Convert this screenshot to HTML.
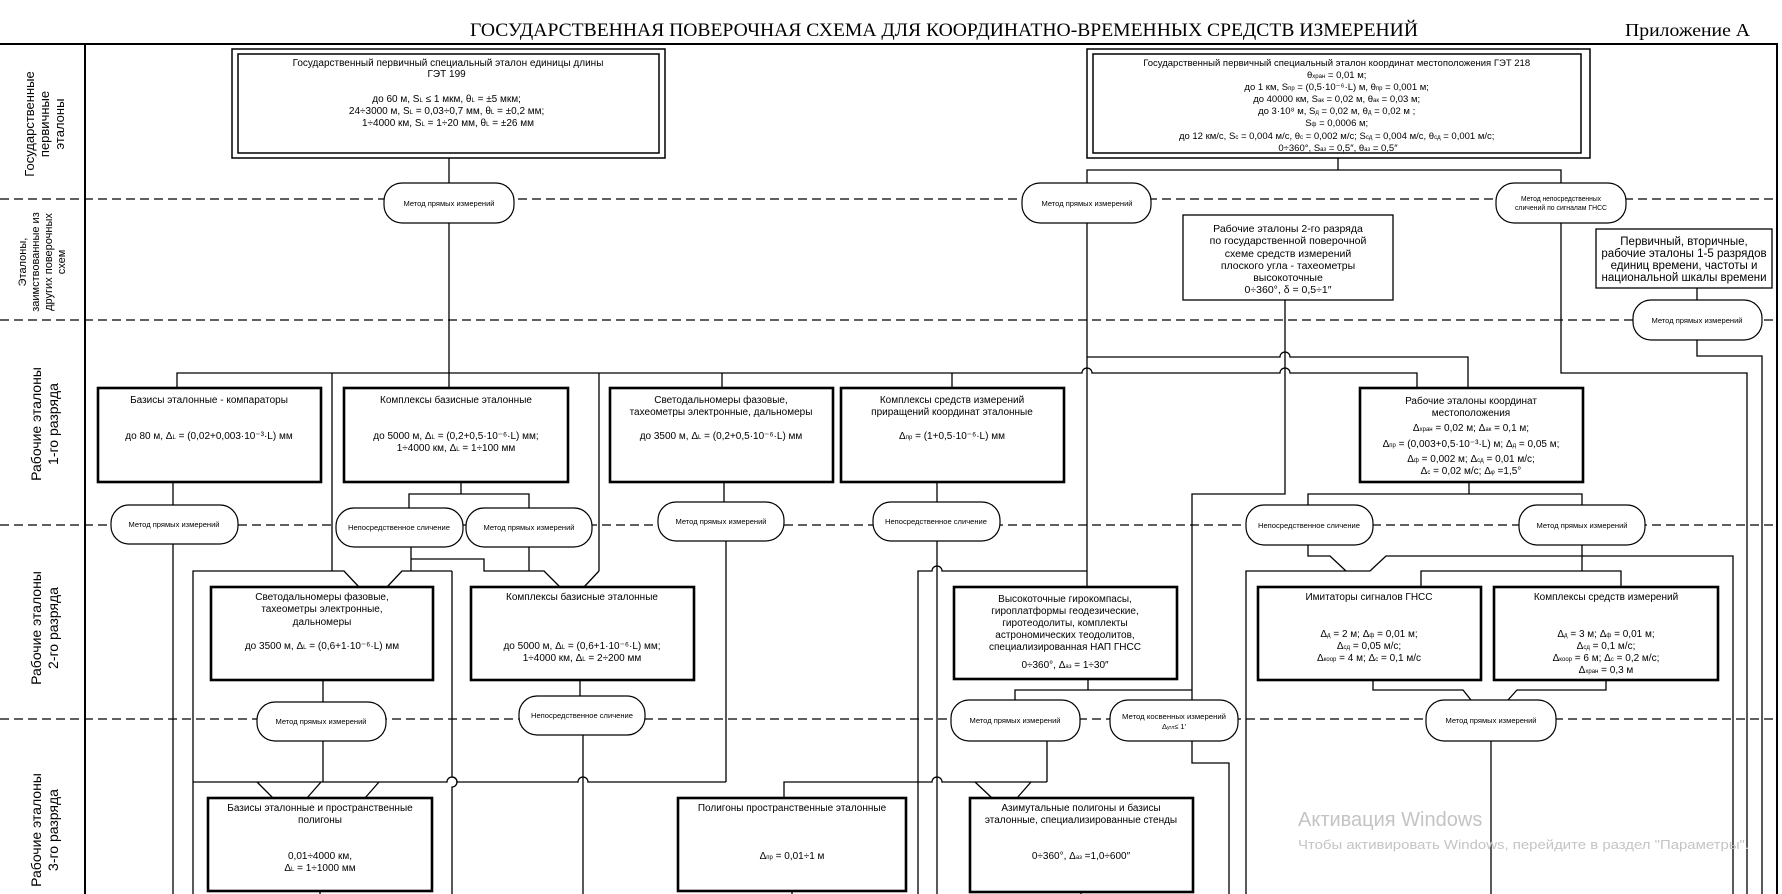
<!DOCTYPE html>
<html><head><meta charset="utf-8"><style>
html,body{margin:0;padding:0;background:#fff}
svg{display:block}
text{font-family:"Liberation Sans",sans-serif;fill:#000}
.t{font-size:10px;text-anchor:middle}
.o{font-size:7.5px;text-anchor:middle}
.l{stroke:#000;stroke-width:1.3;fill:none}
.b{stroke:#000;stroke-width:2.6;fill:#fff}
.ov{stroke:#000;stroke-width:1.2;fill:#fff}
.d{stroke:#000;stroke-width:1.2;stroke-dasharray:9 5}
.rl{font-size:13px;text-anchor:middle;fill:#222}
</style></head><body>
<svg width="1782" height="894" viewBox="0 0 1782 894" xmlns="http://www.w3.org/2000/svg">
<rect width="1782" height="894" fill="#fff"/>
<!-- title -->
<text x="944" y="36" style="font-family:'Liberation Serif',serif;font-size:19px" text-anchor="middle" textLength="948" lengthAdjust="spacingAndGlyphs">ГОСУДАРСТВЕННАЯ ПОВЕРОЧНАЯ СХЕМА ДЛЯ КООРДИНАТНО-ВРЕМЕННЫХ СРЕДСТВ ИЗМЕРЕНИЙ</text>
<text x="1625" y="36" style="font-family:'Liberation Serif',serif;font-size:18px" textLength="125" lengthAdjust="spacingAndGlyphs">Приложение А</text>
<!-- frame -->
<path d="M0 44H1777V894M85 44V894" stroke="#000" stroke-width="2" fill="none"/>
<line class="d" x1="0" y1="199" x2="1777" y2="199"/>
<line class="d" x1="0" y1="320" x2="1777" y2="320"/>
<line class="d" x1="0" y1="525" x2="1777" y2="525"/>
<line class="d" x1="0" y1="719" x2="1777" y2="719"/>
<!-- row labels -->
<g class="rl">
<text transform="translate(44,124) rotate(-90)"><tspan x="0" y="-10">Государственные</tspan><tspan x="0" y="5">первичные</tspan><tspan x="0" y="20">эталоны</tspan></text>
<text transform="translate(43,262) rotate(-90)" style="font-size:11px"><tspan x="0" y="-17">Эталоны,</tspan><tspan x="0" y="-4">заимствованные из</tspan><tspan x="0" y="9">других поверочных</tspan><tspan x="0" y="22">схем</tspan></text>
<text transform="translate(44,424) rotate(-90)" style="font-size:14px"><tspan x="0" y="-3">Рабочие эталоны</tspan><tspan x="0" y="14">1-го разряда</tspan></text>
<text transform="translate(44,628) rotate(-90)" style="font-size:14px"><tspan x="0" y="-3">Рабочие эталоны</tspan><tspan x="0" y="14">2-го  разряда</tspan></text>
<text transform="translate(44,830) rotate(-90)" style="font-size:14px"><tspan x="0" y="-3">Рабочие эталоны</tspan><tspan x="0" y="14">3-го  разряда</tspan></text>
</g>
<!-- connectors -->
<g class="l">
<path d="M449 158V183M449 223V388"/>
<path d="M177 388V373H1082A5 5 0 0 1 1092 373H1280A5 5 0 0 1 1290 373H1417V388"/>
<path d="M722 373V388M952 373V388M332 373V571M599 373V571"/>
<path d="M1338 158V170M1087 183V170H1561V183"/>
<path d="M1087 223V587M1087 357H1280A5 5 0 0 1 1290 357H1468V388"/>
<path d="M1561 223V373H1747V894"/>
<path d="M1285 300V494H1192V700M1192 741V763H1229V894"/>
<path d="M1697 288V300M1697 340V356H1762V894"/>
<path d="M173 482V505M173 544V894"/>
<path d="M461 482V494M409 508V494H529V508"/>
<path d="M193 894V571H344L359 587M387 587L402 571H452M452 571V777A5 5 0 0 1 452 787V894"/>
<path d="M411 547V571M411 559H484V571H544L560 587M529 547V571M584 587L599 571"/>
<path d="M724 482V502M726 541V782"/>
<path d="M937 482V502M937 541V894"/>
<path d="M918 894V571H932A5 5 0 0 1 942 571H1087"/>
<path d="M1469 482V494M1308 505V494H1582V505"/>
<path d="M1308 545V556H1330L1346 571M1246 894V571H1370L1386 556H1733V894"/>
<path d="M1582 545V571M1421 587V571H1621V587"/>
<path d="M1088 679V690M1015 700V690H1192"/>
<path d="M1047 741V782M784 798V782H932A5 5 0 0 1 942 782H1047M975 782L992 798M1031 782L1017 798"/>
<path d="M323 680V702M323 741V782M580 680V696M583 735V894"/>
<path d="M193 782H447A5 5 0 0 1 457 782H578A5 5 0 0 1 588 782H726"/>
<path d="M257 782L273 798M321 782L307 798M379 782L365 798"/>
<path d="M1373 680V690H1463L1471 700M1606 680V690H1517L1508 700M1491 741V894"/>
<path d="M320 891V894M792 891V894M1081 892V894"/>
</g>
<!-- GET boxes -->
<rect x="232" y="49" width="433" height="109" fill="#fff" stroke="#000" stroke-width="1.5"/>
<rect x="238" y="54" width="421" height="99" fill="none" stroke="#000" stroke-width="1.5"/>
<text class="t"><tspan x="448" y="66">Государственный первичный специальный эталон единицы длины</tspan><tspan x="448" y="77">ГЭТ 199</tspan>
<tspan x="448" y="102">до 60 м, S<tspan font-size="6">L</tspan> ≤ 1 мкм, θ<tspan font-size="6">L</tspan> = ±5 мкм;</tspan>
<tspan x="448" y="114">24÷3000 м, S<tspan font-size="6">L</tspan>  =  0,03÷0,7 мм, θ<tspan font-size="6">L</tspan> = ±0,2 мм;</tspan>
<tspan x="448" y="126">1÷4000 км, S<tspan font-size="6">L</tspan> = 1÷20 мм, θ<tspan font-size="6">L</tspan> = ±26 мм</tspan></text>
<rect x="1087" y="49" width="503" height="109" fill="#fff" stroke="#000" stroke-width="1.5"/>
<rect x="1093" y="54" width="488" height="99" fill="none" stroke="#000" stroke-width="1.5"/>
<text class="t" style="font-size:9.5px"><tspan x="1338" y="66">Государственный первичный специальный эталон координат местоположения ГЭТ 218</tspan>
<tspan x="1338" y="78">θ<tspan font-size="6">хран</tspan> = 0,01 м;</tspan>
<tspan x="1338" y="90">до 1 км, S<tspan font-size="6">пр</tspan> = (0,5·10⁻⁶·L) м, θ<tspan font-size="6">пр</tspan> = 0,001 м;</tspan>
<tspan x="1338" y="102">до 40000 км, S<tspan font-size="6">ак</tspan> = 0,02 м, θ<tspan font-size="6">ак</tspan> = 0,03 м;</tspan>
<tspan x="1338" y="114">до 3·10⁸ м, S<tspan font-size="6">д</tspan> = 0,02 м, θ<tspan font-size="6">д</tspan> = 0,02 м ;</tspan>
<tspan x="1338" y="126">S<tspan font-size="6">ф</tspan> = 0,0006 м;</tspan>
<tspan x="1338" y="139">до 12 км/с, S<tspan font-size="6">с</tspan> = 0,004 м/с, θ<tspan font-size="6">с</tspan> = 0,002 м/с; S<tspan font-size="6">сд</tspan> = 0,004 м/с, θ<tspan font-size="6">сд</tspan> = 0,001 м/с;</tspan>
<tspan x="1338" y="151">0÷360°, S<tspan font-size="6">аз</tspan> = 0,5″, θ<tspan font-size="6">аз</tspan> = 0,5″</tspan></text>
<!-- borrowed boxes -->
<rect x="1183" y="215" width="210" height="85" fill="#fff" stroke="#000" stroke-width="1.3"/>
<text class="t" style="font-size:10.5px"><tspan x="1288" y="232">Рабочие эталоны 2-го разряда</tspan><tspan x="1288" y="244">по государственной поверочной</tspan><tspan x="1288" y="257">схеме средств измерений</tspan><tspan x="1288" y="269">плоского угла - тахеометры</tspan><tspan x="1288" y="281">высокоточные</tspan><tspan x="1288" y="293">0÷360°, δ = 0,5÷1″</tspan></text>
<rect x="1596" y="229" width="176" height="59" fill="#fff" stroke="#000" stroke-width="1.3"/>
<text class="t" style="font-size:11.5px"><tspan x="1684" y="245">Первичный, вторичные,</tspan><tspan x="1684" y="257">рабочие эталоны 1-5 разрядов</tspan><tspan x="1684" y="269">единиц времени, частоты и</tspan><tspan x="1684" y="281">национальной шкалы времени</tspan></text>
<!-- level 1 boxes -->
<rect class="b" x="98" y="388" width="223" height="94"/>
<text class="t"><tspan x="209" y="403">Базисы эталонные - компараторы</tspan><tspan x="209" y="439">до  80 м, Δ<tspan font-size="6">L</tspan> = (0,02+0,003·10⁻³·L) мм</tspan></text>
<rect class="b" x="344" y="388" width="224" height="94"/>
<text class="t"><tspan x="456" y="403">Комплексы базисные эталонные</tspan><tspan x="456" y="439">до 5000 м, Δ<tspan font-size="6">L</tspan> = (0,2+0,5·10⁻⁶·L) мм;</tspan><tspan x="456" y="451">1÷4000 км, Δ<tspan font-size="6">L</tspan> = 1÷100 мм</tspan></text>
<rect class="b" x="610" y="388" width="223" height="94"/>
<text class="t"><tspan x="721" y="403">Светодальномеры фазовые,</tspan><tspan x="721" y="415">тахеометры электронные, дальномеры</tspan><tspan x="721" y="439">до 3500 м, Δ<tspan font-size="6">L</tspan> = (0,2+0,5·10⁻⁶·L) мм</tspan></text>
<rect class="b" x="841" y="388" width="223" height="94"/>
<text class="t"><tspan x="952" y="403">Комплексы средств измерений</tspan><tspan x="952" y="415">приращений координат эталонные</tspan><tspan x="952" y="439">Δ<tspan font-size="6">пр</tspan> = (1+0,5·10⁻⁶·L) мм</tspan></text>
<rect class="b" x="1360" y="388" width="223" height="94"/>
<text class="t"><tspan x="1471" y="404">Рабочие эталоны координат</tspan><tspan x="1471" y="416">местоположения</tspan><tspan x="1471" y="431">Δ<tspan font-size="6">хран</tspan> = 0,02 м; Δ<tspan font-size="6">ак</tspan> = 0,1 м;</tspan><tspan x="1471" y="447">Δ<tspan font-size="6">пр</tspan> = (0,003+0,5·10⁻³·L) м; Δ<tspan font-size="6">д</tspan> = 0,05 м;</tspan><tspan x="1471" y="462">Δ<tspan font-size="6">ф</tspan> = 0,002 м; Δ<tspan font-size="6">сд</tspan> = 0,01 м/с;</tspan><tspan x="1471" y="474">Δ<tspan font-size="6">с</tspan> = 0,02 м/с; Δ<tspan font-size="6">φ</tspan> =1,5°</tspan></text>
<!-- level 2 boxes -->
<rect class="b" x="211" y="587" width="222" height="93"/>
<text class="t"><tspan x="322" y="600">Светодальномеры фазовые,</tspan><tspan x="322" y="612">тахеометры электронные,</tspan><tspan x="322" y="625">дальномеры</tspan><tspan x="322" y="649">до 3500 м, Δ<tspan font-size="6">L</tspan> = (0,6+1·10⁻⁶·L) мм</tspan></text>
<rect class="b" x="471" y="587" width="223" height="93"/>
<text class="t"><tspan x="582" y="600">Комплексы базисные эталонные</tspan><tspan x="582" y="649">до 5000 м, Δ<tspan font-size="6">L</tspan> = (0,6+1·10⁻⁶·L) мм;</tspan><tspan x="582" y="661">1÷4000 км, Δ<tspan font-size="6">L</tspan> = 2÷200 мм</tspan></text>
<rect class="b" x="954" y="587" width="223" height="92"/>
<text class="t"><tspan x="1065" y="602">Высокоточные гирокомпасы,</tspan><tspan x="1065" y="614">гироплатформы геодезические,</tspan><tspan x="1065" y="626">гиротеодолиты, комплекты</tspan><tspan x="1065" y="638">астрономических теодолитов,</tspan><tspan x="1065" y="650">специализированная НАП ГНСС</tspan><tspan x="1065" y="668">0÷360°, Δ<tspan font-size="6">аз</tspan> = 1÷30″</tspan></text>
<rect class="b" x="1258" y="587" width="223" height="93"/>
<text class="t"><tspan x="1369" y="600">Имитаторы сигналов ГНСС</tspan><tspan x="1369" y="637">Δ<tspan font-size="6">д</tspan> = 2 м; Δ<tspan font-size="6">ф</tspan> = 0,01 м;</tspan><tspan x="1369" y="649">Δ<tspan font-size="6">сд</tspan> = 0,05 м/с;</tspan><tspan x="1369" y="661">Δ<tspan font-size="6">коор</tspan> = 4 м; Δ<tspan font-size="6">с</tspan> = 0,1 м/с</tspan></text>
<rect class="b" x="1494" y="587" width="224" height="93"/>
<text class="t"><tspan x="1606" y="600">Комплексы средств измерений</tspan><tspan x="1606" y="637">Δ<tspan font-size="6">д</tspan> = 3 м; Δ<tspan font-size="6">ф</tspan> = 0,01 м;</tspan><tspan x="1606" y="649">Δ<tspan font-size="6">сд</tspan> = 0,1 м/с;</tspan><tspan x="1606" y="661">Δ<tspan font-size="6">коор</tspan> = 6 м; Δ<tspan font-size="6">с</tspan> = 0,2 м/с;</tspan><tspan x="1606" y="673">Δ<tspan font-size="6">хран</tspan> = 0,3 м</tspan></text>
<!-- level 3 boxes -->
<rect class="b" x="208" y="798" width="224" height="93"/>
<text class="t"><tspan x="320" y="811">Базисы эталонные и пространственные</tspan><tspan x="320" y="823">полигоны</tspan><tspan x="320" y="859">0,01÷4000 км,</tspan><tspan x="320" y="871">Δ<tspan font-size="6">L</tspan> = 1÷1000 мм</tspan></text>
<rect class="b" x="678" y="798" width="228" height="93"/>
<text class="t"><tspan x="792" y="811">Полигоны пространственные эталонные</tspan><tspan x="792" y="859">Δ<tspan font-size="6">пр</tspan> = 0,01÷1 м</tspan></text>
<rect class="b" x="970" y="798" width="223" height="94"/>
<text class="t"><tspan x="1081" y="811">Азимутальные полигоны и базисы</tspan><tspan x="1081" y="823">эталонные, специализированные стенды</tspan><tspan x="1081" y="859">0÷360°, Δ<tspan font-size="6">аз</tspan> =1,0÷600″</tspan></text>
<!-- ovals -->
<g>
<rect class="ov" x="384" y="183" width="130" height="40" rx="18"/><text class="o" x="449" y="206" textLength="91" lengthAdjust="spacingAndGlyphs">Метод прямых измерений</text>
<rect class="ov" x="1022" y="183" width="129" height="40" rx="18"/><text class="o" x="1087" y="206" textLength="91" lengthAdjust="spacingAndGlyphs">Метод прямых измерений</text>
<rect class="ov" x="1496" y="183" width="130" height="40" rx="18"/><text class="o" x="1561" y="201" textLength="80" lengthAdjust="spacingAndGlyphs">Метод непосредственных</text><text class="o" x="1561" y="210" textLength="92" lengthAdjust="spacingAndGlyphs">сличений по сигналам ГНСС</text>
<rect class="ov" x="1633" y="300" width="129" height="40" rx="18"/><text class="o" x="1697" y="323" textLength="91" lengthAdjust="spacingAndGlyphs">Метод прямых измерений</text>
<rect class="ov" x="111" y="505" width="127" height="39" rx="18"/><text class="o" x="174" y="527" textLength="91" lengthAdjust="spacingAndGlyphs">Метод прямых измерений</text>
<rect class="ov" x="336" y="508" width="127" height="39" rx="18"/><text class="o" x="399" y="530" textLength="102" lengthAdjust="spacingAndGlyphs">Непосредственное сличение</text>
<rect class="ov" x="466" y="508" width="126" height="39" rx="18"/><text class="o" x="529" y="530" textLength="91" lengthAdjust="spacingAndGlyphs">Метод прямых измерений</text>
<rect class="ov" x="658" y="502" width="126" height="39" rx="18"/><text class="o" x="721" y="524" textLength="91" lengthAdjust="spacingAndGlyphs">Метод прямых измерений</text>
<rect class="ov" x="873" y="502" width="127" height="39" rx="18"/><text class="o" x="936" y="524" textLength="102" lengthAdjust="spacingAndGlyphs">Непосредственное сличение</text>
<rect class="ov" x="1246" y="505" width="127" height="40" rx="18"/><text class="o" x="1309" y="528" textLength="102" lengthAdjust="spacingAndGlyphs">Непосредственное сличение</text>
<rect class="ov" x="1519" y="505" width="126" height="40" rx="18"/><text class="o" x="1582" y="528" textLength="91" lengthAdjust="spacingAndGlyphs">Метод прямых измерений</text>
<rect class="ov" x="257" y="702" width="129" height="39" rx="18"/><text class="o" x="321" y="724" textLength="91" lengthAdjust="spacingAndGlyphs">Метод прямых измерений</text>
<rect class="ov" x="519" y="696" width="126" height="39" rx="18"/><text class="o" x="582" y="718" textLength="102" lengthAdjust="spacingAndGlyphs">Непосредственное сличение</text>
<rect class="ov" x="951" y="700" width="129" height="41" rx="18"/><text class="o" x="1015" y="723" textLength="91" lengthAdjust="spacingAndGlyphs">Метод прямых измерений</text>
<rect class="ov" x="1110" y="700" width="128" height="41" rx="18"/><text class="o" x="1174" y="719" textLength="104" lengthAdjust="spacingAndGlyphs">Метод косвенных измерений</text><text class="o" x="1174" y="729">Δ<tspan font-size="5">угл</tspan>≤ 1′</text>
<rect class="ov" x="1426" y="700" width="130" height="41" rx="18"/><text class="o" x="1491" y="723" textLength="91" lengthAdjust="spacingAndGlyphs">Метод прямых измерений</text>
</g>
<!-- watermark -->
<text x="1298" y="826" style="font-size:20px;fill:#c4c4c4">Активация Windows</text>
<text x="1298" y="849" style="font-size:13px;fill:#c4c4c4" textLength="451" lengthAdjust="spacingAndGlyphs">Чтобы активировать Windows, перейдите в раздел "Параметры".</text>
</svg>
</body></html>
